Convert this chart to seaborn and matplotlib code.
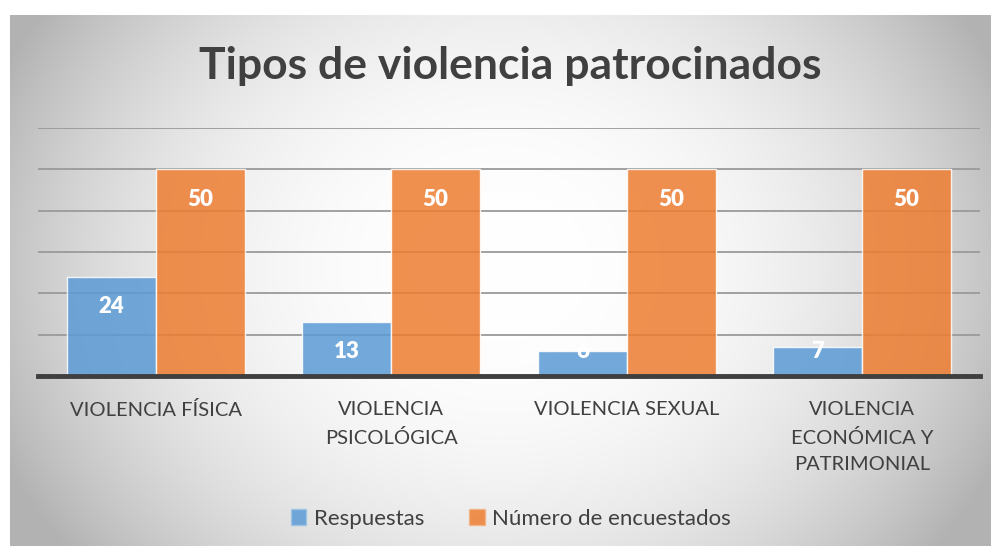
import numpy as np
import pandas as pd
import matplotlib
matplotlib.use("Agg")
import matplotlib.pyplot as plt
import seaborn as sns

categories = ["VIOLENCIA FÍSICA", "VIOLENCIA\nPSICOLÓGICA", "VIOLENCIA SEXUAL", "VIOLENCIA\nECONÓMICA Y\nPATRIMONIAL"]
respuestas = [24, 13, 6, 7]
encuestados = [50, 50, 50, 50]
series_names = ["Respuestas", "Número de encuestados"]
title = "Tipos de violencia patrocinados"

sns.set_theme(style="white")
plt.rcParams['font.family'] = ['Lato', 'DejaVu Sans']

W, H = 996, 551
fig = plt.figure(figsize=(W/100, H/100), dpi=100)
fig.patch.set_facecolor("white")

# gradient background chart area
bg = fig.add_axes([10/W, 1-546/H, 980/W, 531/H], zorder=0)
yy, xx = np.mgrid[0:531, 0:980]
cx, cy = 490, 250
d = np.sqrt(((xx-cx)/500.0)**2 + ((yy-cy)/420.0)**2)
val = 1.0 - 0.24*np.clip(d, 0, 1.1)**2.4
img = np.dstack([val, val, val])
bg.imshow(img, aspect="auto", extent=[0, 1, 0, 1], interpolation="bilinear")
bg.set_axis_off()

df = pd.DataFrame({
    "cat": categories * 2,
    "val": respuestas + encuestados,
    "serie": [series_names[0]]*4 + [series_names[1]]*4,
})

ax = fig.add_axes([38/W, 1-376/H, 942/W, 248/H], zorder=1)
ax.patch.set_alpha(0)
sns.barplot(data=df, x="cat", y="val", hue="serie", order=categories,
            hue_order=series_names, palette=["#5B9BD5", "#ED7D31"], saturation=1,
            width=0.755, gap=0.0, edgecolor="white", linewidth=1.0,
            alpha=0.85, ax=ax, legend=False, zorder=3)
ax.set_ylim(0, 60)
ax.set_xlim(-0.5, 3.5)
ax.set_yticks([10, 20, 30, 40, 50, 60])
ax.yaxis.grid(True, color="#9a9a9a", linewidth=1.3, zorder=0)
ax.set_axisbelow(True)
ax.tick_params(axis="y", left=False, labelleft=False)
ax.tick_params(axis="x", bottom=False, pad=12, labelsize=14.5, labelcolor="#404040")
for lab in ax.get_xticklabels():
    lab.set_linespacing(1.7)
    lab.set_verticalalignment("top")
ax.set_xlabel("")
ax.set_ylabel("")
for s in ["top", "right", "left"]:
    ax.spines[s].set_visible(False)
ax.spines["bottom"].set_color("#3f3f3f")
ax.spines["bottom"].set_linewidth(3.5)
ax.spines["bottom"].set_zorder(5)

# data labels
px_per_unit = 248/60.0
for cont in ax.containers:
    for bar in cont:
        h = bar.get_height()
        xc = bar.get_x() + bar.get_width()/2
        top_px = h*px_per_unit
        yc_px = max(top_px - 30, 24)
        ax.text(xc, yc_px/px_per_unit, f"{int(round(h))}", ha="center", va="center",
                color="white", fontsize=16, fontweight="heavy", zorder=6)

fig.text(510/W, 1-66/H, title, ha="center", va="center", fontsize=32,
         fontweight="bold", color="#404040")

from matplotlib.patches import Patch
handles = [Patch(facecolor="#5B9BD5", alpha=0.85, edgecolor="#9cc3e6"),
           Patch(facecolor="#ED7D31", alpha=0.85, edgecolor="#f4b183")]
leg = fig.legend(handles, series_names, loc="center", bbox_to_anchor=(511/W, 1-519/H),
                 ncol=2, frameon=False, fontsize=16, handlelength=0.7, handleheight=0.7,
                 columnspacing=2.0, handletextpad=0.35, labelcolor="#404040")

fig.savefig("out.png", dpi=100)
